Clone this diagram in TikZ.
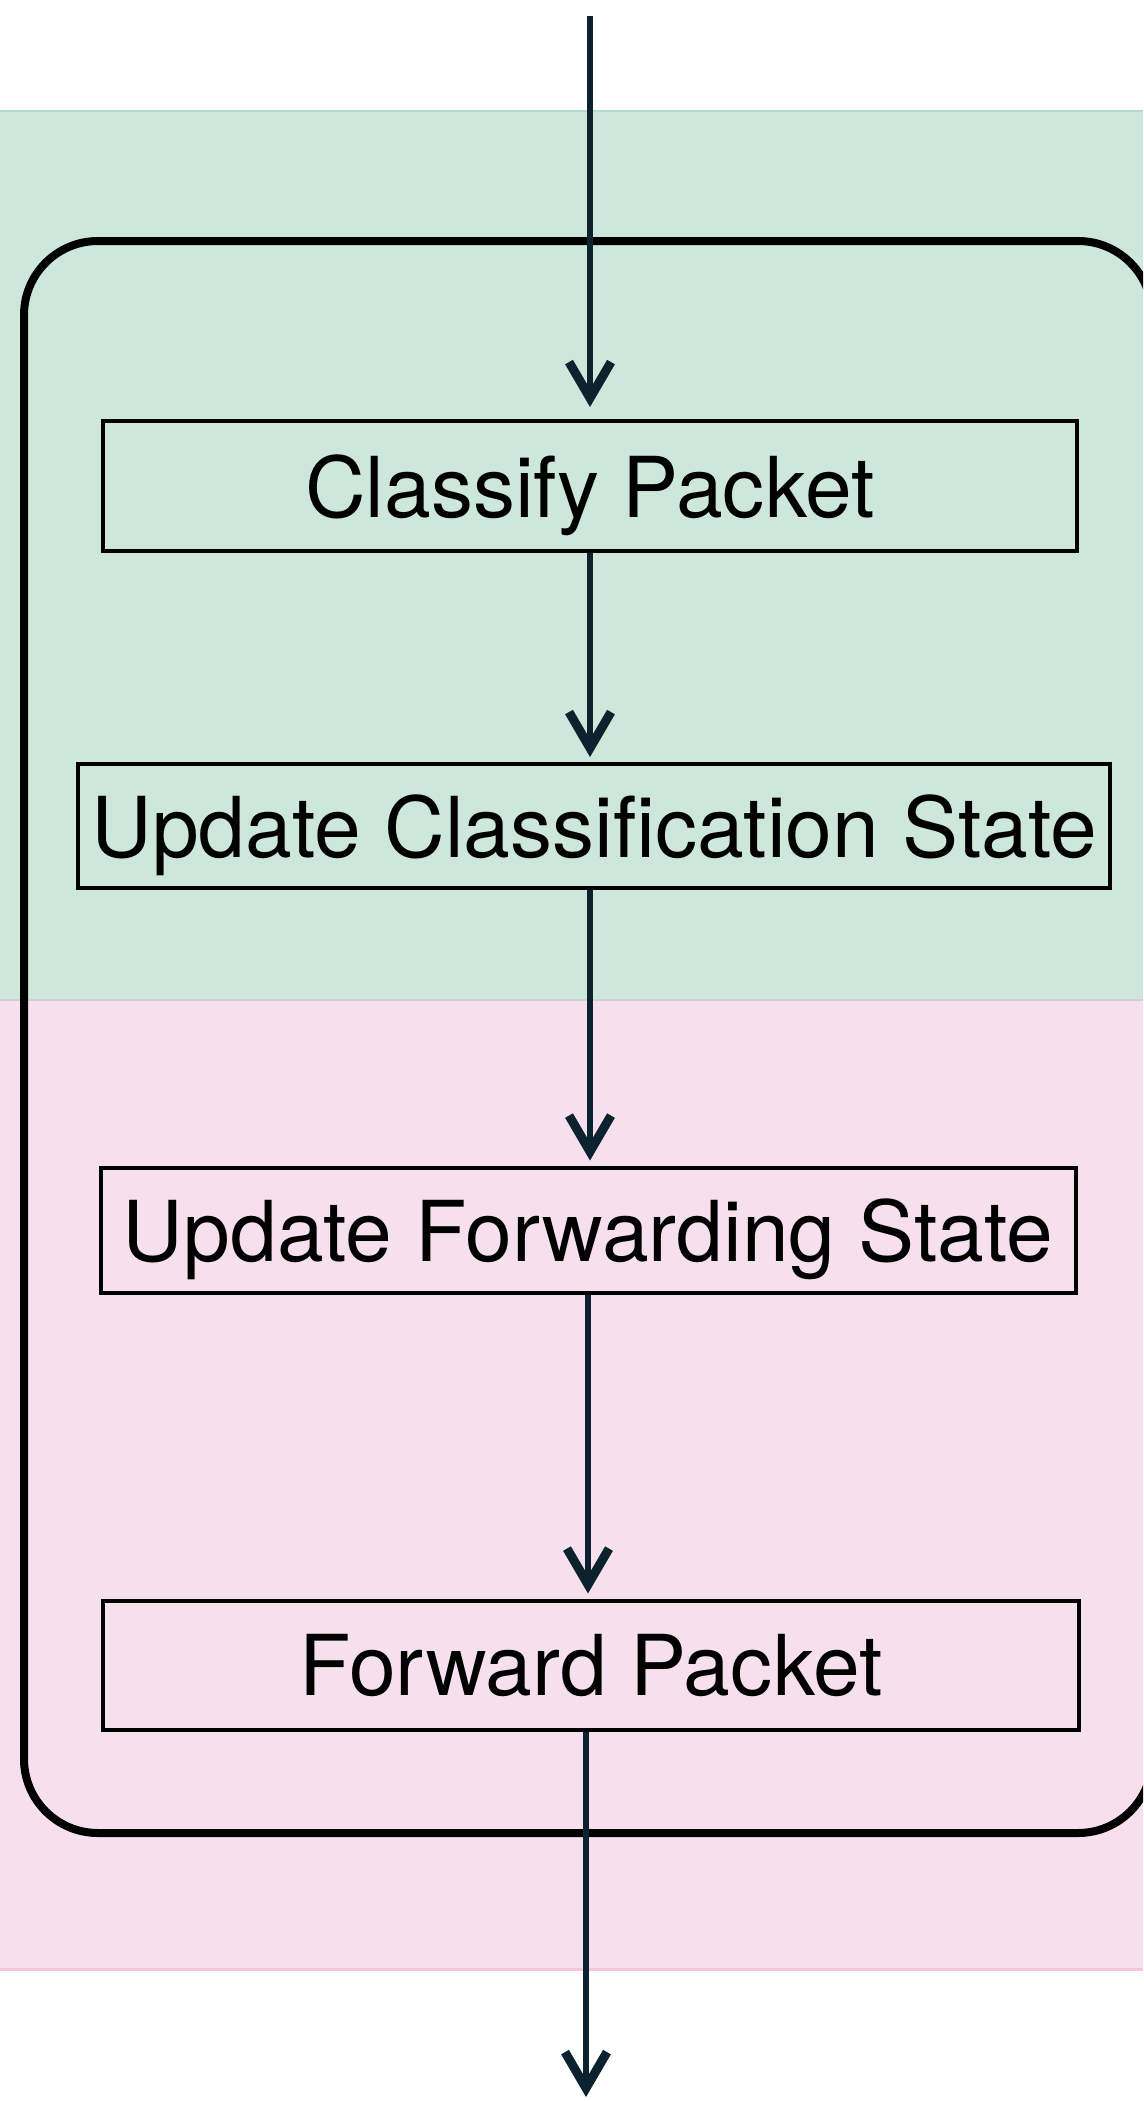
\documentclass[tikz,border=0pt]{standalone}
\usepackage{fontspec}
\setmainfont{TeX Gyre Heros}
\usetikzlibrary{arrows.meta,positioning}
\definecolor{bandgreen}{RGB}{206,231,219}
\definecolor{bandpink}{RGB}{247,224,237}
\definecolor{greenedge}{RGB}{180,220,202}
\definecolor{pinkedge}{RGB}{243,198,222}
\definecolor{arrowblue}{RGB}{12,34,46}
\tikzset{pbox/.style={draw=black, line width=4pt, inner sep=0pt, text depth=0pt, font=\fontsize{84}{96}\selectfont}}
\tikzset{arr/.style={draw=arrowblue, line width=6pt, -{Straight Barb[length=36pt,width=42pt,line width=9pt]}, shorten >=5pt}}

\begin{document}
\begin{tikzpicture}[x=1pt,y=-1pt]
		\useasboundingbox (0,0) rectangle (1143,2101);
		\clip (0,0) rectangle (1143,2101);
		
		% colour bands
		\fill[bandgreen] (0,111) rectangle (1143,1001);
		\fill[bandpink] (0,1001) rectangle (1143,1970);
		\draw[line width=2pt, greenedge] (0,111) -- (1143,111);
		\draw[line width=2pt, black!18] (0,1000) -- (1143,1000);
		\draw[line width=3pt, pinkedge] (0,1969) -- (1143,1969);
		
		% processing loop
		\draw[line width=8pt, rounded corners=74pt] (24,241) rectangle (1152,1833);
		
		\node[pbox, minimum width=974pt, minimum height=130pt] (cls) at (590,486){Classify Packet};
		
		\node[pbox, minimum width=1032pt, minimum height=124pt] (ucs) at (594,826){Update Classification State};
		
		\node[pbox, minimum width=975pt, minimum height=125pt] (ufs) at (588,1230){Update Forwarding State};
		
		\node[pbox, minimum width=976pt, minimum height=129pt] (fwd) at (591,1665){Forward Packet};
		
		\coordinate (in) at (590,16);
		\coordinate (out) at (586,2097);
		
		\draw[arr, shorten >=12pt] (in) -- (in |- cls.north);
		\draw[arr] (cls.south) -- (cls.south |- ucs.north);
		\draw[arr] (ucs.south -| cls.south) -- (cls.south |- ufs.north);
		\draw[arr] (ufs.south) -- (ufs.south |- fwd.north);
		\draw[arr, shorten >=0pt] (fwd.south -| out) -- (out);
	\end{tikzpicture}
\end{document}
